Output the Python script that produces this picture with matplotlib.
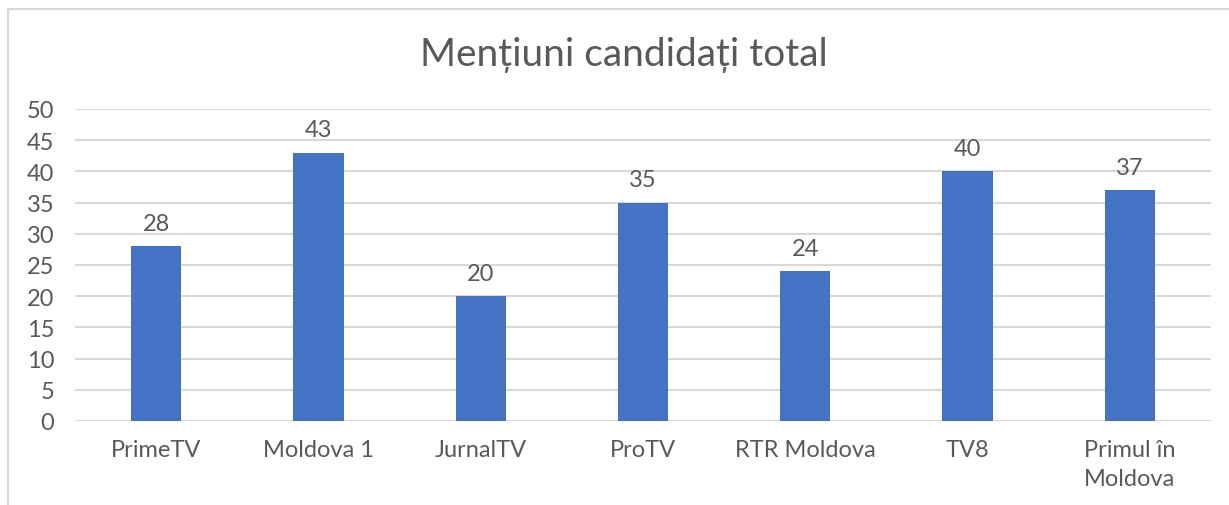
import matplotlib.pyplot as plt
from matplotlib.patches import Rectangle

# data
channels = ["PrimeTV", "Moldova 1", "JurnalTV", "ProTV", "RTR Moldova", "TV8", "Primul în\nMoldova"]
mentions = [28, 43, 20, 35, 24, 40, 37]
yticks = [0, 5, 10, 15, 20, 25, 30, 35, 40, 45, 50]

plt.rcParams['font.family'] = ['Lato', 'DejaVu Sans']
grey = '#595959'
blue = '#4472C4'

fig = plt.figure(figsize=(12.29, 5.06), dpi=100)
ax = fig.add_axes([75/1229, 1 - 422/506, (1211 - 75)/1229, (422 - 110)/506])

# outer chart frame (runs off the right and bottom edges)
fig.patches.append(Rectangle((8/1229, -0.1), 1.2, 1 - 10/506 + 0.1, transform=fig.transFigure,
                             fill=False, edgecolor='#d9d9d9', linewidth=1.5))

x = range(len(channels))
bars = ax.bar(x, mentions, width=0.31, color=blue, zorder=3)
for b, v in zip(bars, mentions):
    ax.text(b.get_x() + b.get_width()/2, v + 2.0, str(v), ha='center', va='bottom',
            fontsize=17, color=grey)

ax.set_xlim(-0.5, len(channels) - 0.5)
ax.set_ylim(0, 50)
ax.set_yticks(yticks)
ax.set_xticks(list(x))
ax.set_xticklabels(channels, fontsize=17, color=grey, linespacing=1.45)
ax.tick_params(axis='y', labelsize=17, labelcolor=grey, length=0, pad=15)
ax.tick_params(axis='x', length=0, pad=13)
ax.grid(axis='y', color='#d9d9d9', linewidth=1.5, zorder=0)
for s in ax.spines.values():
    s.set_visible(False)

fig.text(624/1229, 1 - 55/506, "Mențiuni candidați total", ha='center', va='center',
         fontsize=28, color=grey)

fig.savefig("out.png", dpi=100)
